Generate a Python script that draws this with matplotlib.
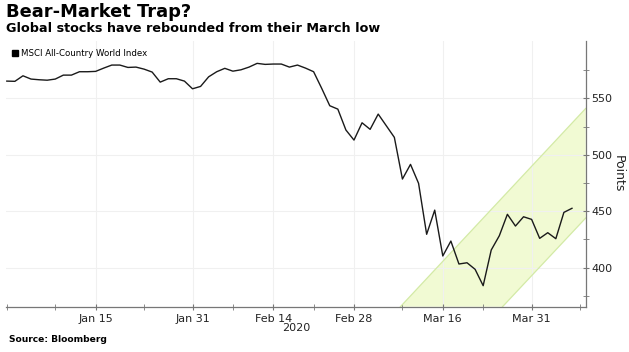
import numpy as np
import pandas as pd
import matplotlib
matplotlib.use("Agg")
import matplotlib.pyplot as plt
from matplotlib.lines import Line2D

# MSCI ACWI daily close, weekdays Dec 31 2019 .. Apr 7 2020
dates = pd.bdate_range("2019-12-31", "2020-04-07")
values = [565.2, 565.0, 569.9, 567.0, 566.4, 566.0, 567.0, 570.5, 570.5, 573.5,
          573.5, 573.8, 576.7, 579.4, 579.4, 577.3, 577.6, 575.8, 573.2, 564.3,
          567.3, 567.3, 565.2, 558.4, 560.5, 569.0, 573.5, 576.5, 574.0, 575.2,
          577.6, 580.9, 580.0, 580.3, 580.3, 577.6, 579.4, 576.7, 573.5, 558.8,
          543.4, 540.4, 521.9, 513.0, 528.3, 522.5, 536.0, 525.7, 515.4, 478.5,
          491.5, 474.7, 429.6, 451.0, 410.4, 423.6, 403.3, 404.4, 398.6, 384.1,
          415.7, 428.3, 447.3, 436.9, 445.1, 442.8, 426.0, 431.0, 425.7, 449.0,
          452.6]

major_dates = ["2020-01-15", "2020-01-31", "2020-02-14", "2020-02-28", "2020-03-16", "2020-03-31"]
major_labels = ["Jan 15", "Jan 31", "Feb 14", "Feb 28", "Mar 16", "Mar 31"]
minor_dates = ["2019-12-31", "2020-01-08", "2020-01-23", "2020-02-07", "2020-02-21",
               "2020-03-09", "2020-03-23", "2020-04-08"]

# rising channel drawn on the chart (x in trading days from Dec 31, y in points)
chan_upper_x = [48.75, 71.7]
chan_upper_y = [365.5, 541.0]
chan_lower_x = [61.4, 71.7]
chan_lower_y = [365.5, 444.0]

axis_days = pd.bdate_range("2019-12-31", "2020-04-08")
def pos(d):
    return axis_days.get_loc(pd.Timestamp(d))

x = np.arange(len(values))

fig = plt.figure(figsize=(6.29, 3.52), dpi=100)
ax = fig.add_axes([6/629, 1 - 306.7/352, (585.7 - 6)/629, (306.7 - 41)/352])

poly_x = chan_upper_x + chan_lower_x[::-1]
poly_y = chan_upper_y + chan_lower_y[::-1]
ax.fill(poly_x, poly_y, color="#f1fad3", zorder=1, lw=0)
ax.plot(chan_upper_x, chan_upper_y, color="#d3eaa6", lw=0.9, zorder=2)
ax.plot(chan_lower_x, chan_lower_y, color="#d3eaa6", lw=0.9, zorder=2)

ax.plot(x, values, color="#1a1a1a", lw=1.0, zorder=3)

ax.set_xlim(-0.1, 71.7)
ax.set_ylim(365.5, 600.7)

ax.set_xticks([pos(d) for d in major_dates])
ax.set_xticklabels(major_labels)
ax.set_xticks([pos(d) for d in minor_dates], minor=True)
ax.set_yticks([400, 450, 500, 550])
ax.set_yticks([375, 425, 475, 525, 575], minor=True)

ax.yaxis.tick_right()
ax.yaxis.set_label_position("right")
ax.set_ylabel("Points", rotation=-90, labelpad=9, fontsize=9, color="#222222")

for s in ["top", "left"]:
    ax.spines[s].set_visible(False)
for s in ["right", "bottom"]:
    ax.spines[s].set_color("#777777")
    ax.spines[s].set_linewidth(0.9)

ax.tick_params(axis="both", which="both", colors="#777777", labelcolor="#222222", labelsize=8)
ax.tick_params(axis="x", which="both", direction="inout", length=4, pad=3)
ax.tick_params(axis="y", which="both", direction="inout", length=4, pad=2)

ax.grid(True, which="major", color="#f0f0f0", lw=0.8, zorder=0)

ax.text(35.8, -0.06, "2020", transform=ax.get_xaxis_transform(), ha="center", va="top",
        fontsize=8, color="#222222")

handle = Line2D([], [], marker="s", color="black", linestyle="none", markersize=4.5)
leg = ax.legend([handle], ["MSCI All-Country World Index"], loc="upper left",
                bbox_to_anchor=(0.0, 0.99), frameon=False, fontsize=6.2,
                handletextpad=0.1, borderaxespad=0.2, handlelength=1.0)

fig.text(6/629, 1 - 3/352, "Bear-Market Trap?", fontsize=12.9, fontweight="bold", va="top", ha="left")
fig.text(6/629, 1 - 22/352, "Global stocks have rebounded from their March low", fontsize=9.2,
         fontweight="bold", va="top", ha="left")
fig.text(9/629, 1 - 335/352, "Source: Bloomberg", fontsize=6.6, fontweight="bold", va="top", ha="left")

fig.savefig("out.png", dpi=100)
